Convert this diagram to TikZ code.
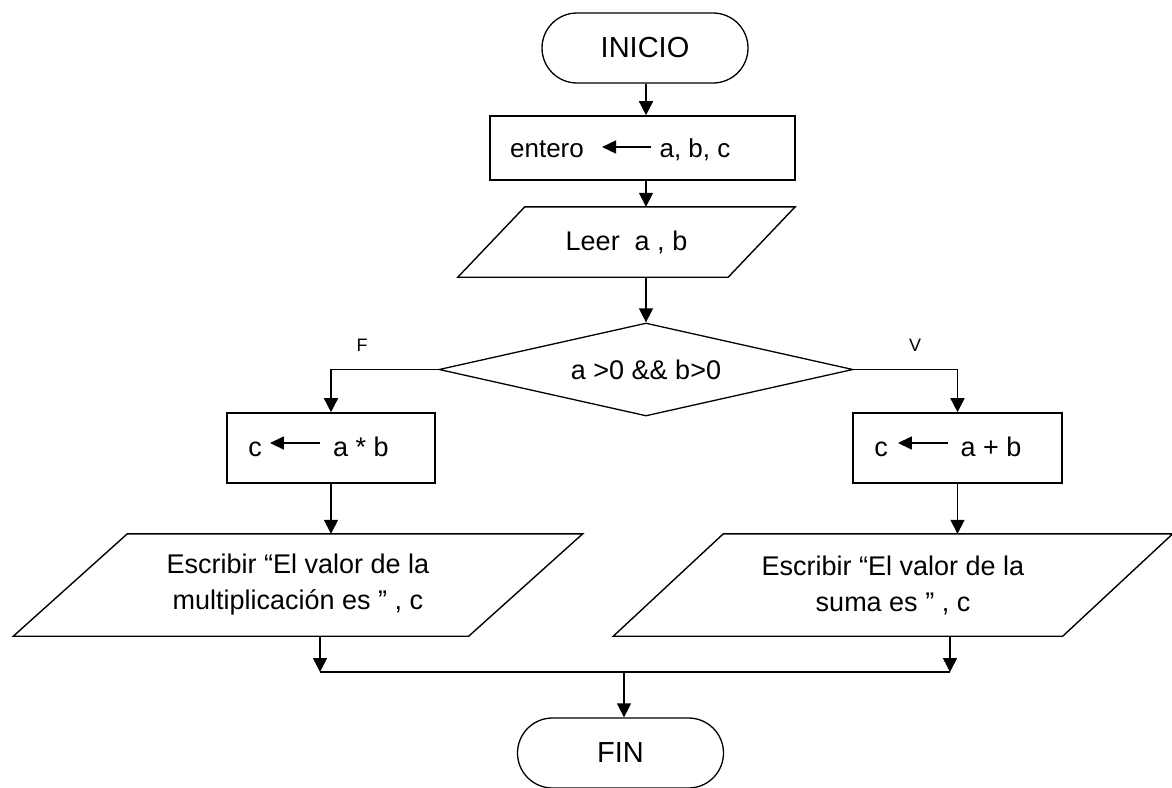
\documentclass[tikz,border=0pt]{standalone}
\usepackage{fontspec}
\setmainfont{Liberation Sans}
\usetikzlibrary{shapes.geometric,shapes.misc,arrows.meta}

% slanted input/output outline around a node: #1 node, #2 half of the slant
\newcommand\slantbox[2]{%
  \draw[line width=1.4pt, line join=miter]
    ([xshift=#2]#1.north west) -- ([xshift=#2]#1.north east) --
    ([xshift=-#2]#1.south east) -- ([xshift=-#2]#1.south west) -- cycle;}

\begin{document}
\begin{tikzpicture}[
  x=1pt, y=-1pt,
  every node/.style={inner sep=0pt},
  body/.style={font=\fontsize{27}{36}\selectfont},
  term/.style={rounded rectangle, draw, line width=1.3pt,
    minimum width=206pt, minimum height=70pt, font=\fontsize{29}{34}\selectfont},
  proc/.style={rectangle, draw, line width=1.6pt, body},
  io/.style={rectangle, body, align=center},
  decision/.style={diamond, draw, line width=1.3pt, body, aspect=4.45,
    minimum width=414pt, minimum height=93pt},
  txt/.style={anchor=base, body},
  branch/.style={font=\fontsize{18}{20}\selectfont},
  flow/.style={line width=1.5pt},
  arr/.style={flow, -{Triangle[length=14pt,width=14pt]}},
  assign/.style={line width=1.6pt, -{Triangle[length=14pt,width=13pt]}}
]
\useasboundingbox (0,0) rectangle (1172,787);

% main flow
\node[term] (ini) at (645,48) {INICIO};
\node[proc, minimum width=305pt, minimum height=64pt] (decl) at (642.5,148) {};
\node[io, minimum width=270pt, minimum height=70pt] (leer) at (626.5,242) {Leer~~a , b};
\slantbox{leer}{33.5pt}
\node[decision] (cond) at (646,369.5) {a >0 \&\& b>0};

% the two branches
\node[proc, minimum width=208pt, minimum height=70pt] (mul) at (331,448) {};
\node[proc, minimum width=209pt, minimum height=70pt] (sum) at (957.5,448) {};
\node[io, minimum width=455pt, minimum height=102pt] (outm) at (298,585)
  {Escribir “El valor de la\\multiplicación es ” , c};
\slantbox{outm}{57pt}
\node[io, minimum width=449pt, minimum height=102pt] (outs) at (893,585)
  {Escribir “El valor de la\\suma es ” , c};
\slantbox{outs}{55pt}
\node[term] (fin) at (620.5,753) {FIN};

% contents of the assignment boxes
\node[txt, font=\fontsize{26}{30}\selectfont] (dtype) at (547,157) {entero};
\node[txt, font=\fontsize{26}{30}\selectfont] (dvars) at (695,157) {a, b, c};
\draw[assign] ([xshift=-8pt,yshift=10pt]dvars.base west) -- ([xshift=18pt,yshift=10pt]dtype.base east);

\node[txt] (mc) at (255,456) {c};
\node[txt] (mexpr) at (361,456) {a * b};
\draw[assign] ([xshift=-13pt,yshift=13pt]mexpr.base west) -- ([xshift=8pt,yshift=13pt]mc.base east);

\node[txt] (sc) at (881,456) {c};
\node[txt] (sexpr) at (991,456) {a + b};
\draw[assign] ([xshift=-12pt,yshift=13pt]sexpr.base west) -- ([xshift=10pt,yshift=13pt]sc.base east);

% junction points
\coordinate (axis) at (646,0);
\coordinate (jl) at (320,672);
\coordinate (jr) at (950,672);
\coordinate (jm) at (624,672);

% connectors
\draw[arr] (axis |- ini.south) -- (axis |- decl.north);
\draw[arr] (axis |- decl.south) -- (axis |- leer.north);
\draw[arr] (axis |- leer.south) -- (axis |- cond.north);
\draw[arr] (cond.west) -| (mul.north);
\draw[arr] (cond.east) -| (sum.north);
\draw[arr] (mul.south) -- (mul.south |- outm.north);
\draw[arr] (sum.south) -- (sum.south |- outs.north);
\draw[arr] (jl |- outm.south) -- (jl);
\draw[arr] (jr |- outs.south) -- (jr);
\draw[flow] (jl) -- (jr);
\draw[arr] (jm) -- (jm |- fin.north);

% branch labels
\node[branch] (lf) at (362,345) {F};
\node[branch] (lv) at (915,345) {V};
\end{tikzpicture}
\end{document}
